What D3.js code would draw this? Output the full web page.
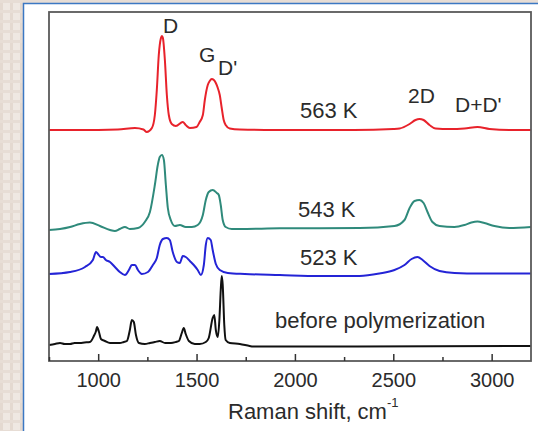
<!DOCTYPE html>
<html>
<head>
<meta charset="utf-8">
<script src="https://cdn.jsdelivr.net/npm/d3@7/dist/d3.min.js"></script>
<style>
  html, body { margin: 0; padding: 0; background: #ece4dd; }
  svg { display: block; }
  text { font-family: "Liberation Sans", Arial, sans-serif; fill: #2b2b2b; }
</style>
</head>
<body>
<div id="chart"></div>
<script>

// Raman spectra: [shift (cm-1), intensity above own baseline (a.u.)]
var spec563 = [[750,0],[900,0],[1100,0.5],[1187,2],[1230,0.5],[1247,-2],[1273,2],[1288,15],[1298,40],[1308,75],
  [1319,92],[1324,94],[1329,92],[1339,70],[1349,35],[1359,15],[1374,6],[1395,4],[1430,8],[1445,5],[1466,2],
  [1500,3],[1516,8],[1532,15],[1542,30],[1557,45],[1567,49],[1577,51],[1588,50],[1598,47],[1608,42],[1618,35],
  [1628,22],[1638,10],[1648,5],[1669,1.5],[1720,0.5],[1900,0],[2300,0],[2500,1],[2532,1.5],[2583,6],[2613,10],
  [2633,11],[2654,10],[2684,5],[2715,1.5],[2786,1],[2862,1.5],[2928,3],[2989,1],[3090,0],[3200,0]];

var spec543 = [[750,0],[806,1],[857,3],[907,6],[958,7.5],[1009,4],[1060,0],[1085,-1],[1110,1],[1136,3],[1161,1],
  [1202,2],[1237,8],[1263,18],[1288,45],[1303,65],[1313,73],[1324,75],[1334,70],[1344,45],[1354,22],[1369,10],
  [1390,4],[1415,5],[1445,3],[1476,3],[1506,5],[1532,15],[1547,30],[1562,38],[1582,40],[1603,37],[1613,35],
  [1623,25],[1633,10],[1648,3],[1679,1],[1720,1],[1923,1.7],[2329,2],[2506,4],[2557,10],[2583,22],[2608,29],
  [2633,30],[2654,27],[2674,18],[2699,8],[2735,4],[2811,3],[2862,5],[2897,7.5],[2928,8.5],[2963,7],[3014,4],
  [3090,2],[3200,3]];

var spec523 = [[750,0],[857,2],[933,7],[973,14],[989,22],[999,20],[1014,17],[1024,17],[1039,14],[1060,12],[1085,7],
  [1110,2],[1136,-1],[1156,4],[1171,9],[1187,9],[1202,4],[1222,0],[1253,2],[1278,9],[1298,16],[1313,29],[1329,35],
  [1349,36],[1364,34],[1379,22],[1400,12],[1415,11],[1430,18],[1445,17],[1466,13],[1486,9],[1506,4],[1522,-1],
  [1537,9],[1547,29],[1557,36],[1572,34],[1582,24],[1598,10],[1618,4],[1659,1],[1745,0],[1923,-1],[2126,-2],
  [2329,-2],[2430,0.5],[2506,4],[2557,9],[2593,15],[2623,17],[2649,14],[2684,8],[2735,3],[2811,1],[2938,0.5],[3200,0.5]];

var specMonomer = [[750,0],[780,1],[806,2],[830,1],[857,1],[880,2],[907,2],[930,2.5],[958,3],[978,9],[989,14],
  [994,18],[1004,13],[1014,6],[1034,4],[1060,2],[1085,2],[1110,2],[1130,3],[1146,4],[1161,15],[1171,25],[1181,23],
  [1192,10],[1207,2],[1237,1],[1263,2],[1288,3],[1313,4],[1340,2],[1370,2],[1395,3],[1410,4],[1425,12],[1435,17],
  [1445,11],[1461,4],[1491,1],[1516,1],[1547,3],[1562,7],[1582,27],[1590,30],[1598,15],[1608,8],[1616,25],
  [1623,55],[1628,69],[1633,60],[1641,20],[1648,5],[1669,2],[1720,1],[1770,-1],[1786,-1.5],[3200,-1]];

var seriesNames = ["563 K", "543 K", "523 K", "before polymerization"];
var seriesData = [spec563, spec543, spec523, specMonomer];
var seriesOffsets = [231, 131, 87, 16];
var seriesColors = ["#e8222b", "#2f8a7b", "#2424d6", "#111111"];

var xTicks = [1000, 1500, 2000, 2500, 3000];
var xMinorTicks = [750, 1250, 1750, 2250, 2750];

var W = 538, H = 431;
var margin = { top: 12, right: 7, bottom: 70, left: 49 };
var w = W - margin.left - margin.right;
var h = H - margin.top - margin.bottom;

var svg = d3.select("#chart").append("svg")
    .attr("width", W)
    .attr("height", H);

// textured page background
var defs = svg.append("defs");
var pat = defs.append("pattern")
    .attr("id", "linen")
    .attr("width", 10).attr("height", 10)
    .attr("patternUnits", "userSpaceOnUse");
pat.append("rect").attr("width", 10).attr("height", 10).attr("fill", "#efe8e2");
pat.append("rect").attr("x", 0).attr("width", 3).attr("height", 10).attr("fill", "#e4d9d0");
pat.append("rect").attr("y", 0).attr("width", 10).attr("height", 3).attr("fill", "#e7ddd5");

svg.append("rect").attr("width", W).attr("height", H).attr("fill", "url(#linen)");

// white panel with blue edge
svg.append("rect")
    .attr("x", 23.5).attr("y", 3.5)
    .attr("width", W).attr("height", H)
    .attr("fill", "#ffffff")
    .attr("stroke", "#3c78c3")
    .attr("stroke-width", 1.5);

var x = d3.scaleLinear().domain([750, 3200]).range([0, w]);
var y = d3.scaleLinear().domain([0, 349]).range([h, 0]);

var g = svg.append("g")
    .attr("transform", "translate(" + margin.left + "," + margin.top + ")");

var line = d3.line()
    .x(function(d) { return x(d[0]); })
    .y(function(d) { return y(d[1]); })
    .curve(d3.curveMonotoneX);

seriesData.forEach(function(s, i) {
    var pts = s.map(function(d) { return [d[0], d[1] + seriesOffsets[i]]; });
    g.append("path")
        .datum(pts)
        .attr("fill", "none")
        .attr("stroke", seriesColors[i])
        .attr("stroke-width", 2)
        .attr("stroke-linejoin", "round")
        .attr("d", line);
});

// frame
g.append("rect")
    .attr("width", w).attr("height", h)
    .attr("fill", "none")
    .attr("stroke", "#5a5a5a")
    .attr("stroke-width", 1.8);

// bottom axis, ticks pointing inward
var xAxis = g.append("g")
    .attr("transform", "translate(0," + h + ")")
    .call(d3.axisBottom(x).tickValues(xTicks).tickFormat(d3.format("d"))
        .tickSizeInner(-7).tickSizeOuter(0).tickPadding(12));
xAxis.select(".domain").remove();
xAxis.selectAll(".tick line").attr("stroke", "#333").attr("stroke-width", 1.5);
xAxis.selectAll(".tick text")
    .attr("font-size", 20)
    .attr("font-family", "Liberation Sans, Arial, sans-serif")
    .attr("fill", "#2b2b2b");

g.append("g")
    .attr("transform", "translate(0," + h + ")")
    .call(d3.axisBottom(x).tickValues(xMinorTicks).tickSizeInner(-4).tickSizeOuter(0).tickFormat(""))
    .call(function(a) { a.select(".domain").remove(); a.selectAll(".tick line").attr("stroke", "#333").attr("stroke-width", 1.5); });

// axis title
var title = svg.append("text")
    .attr("x", 228).attr("y", 419)
    .attr("font-size", 22);
title.append("tspan").text("Raman shift, cm");
title.append("tspan").attr("font-size", 13).attr("dy", -12).text("-1");

// series labels
var seriesLabelPos = [[300, 118], [298, 217], [300, 265], [275, 328]];
seriesNames.forEach(function(n, i) {
    svg.append("text")
        .attr("x", seriesLabelPos[i][0]).attr("y", seriesLabelPos[i][1])
        .attr("font-size", 22)
        .text(n);
});

// band labels
var bandNames = ["D", "G", "D'", "2D", "D+D'"];
var bandPos = [[163, 33], [199, 62], [218, 75], [408, 103], [455, 112]];
bandNames.forEach(function(n, i) {
    svg.append("text")
        .attr("x", bandPos[i][0]).attr("y", bandPos[i][1])
        .attr("font-size", 21)
        .text(n);
});

</script>
</body>
</html>
